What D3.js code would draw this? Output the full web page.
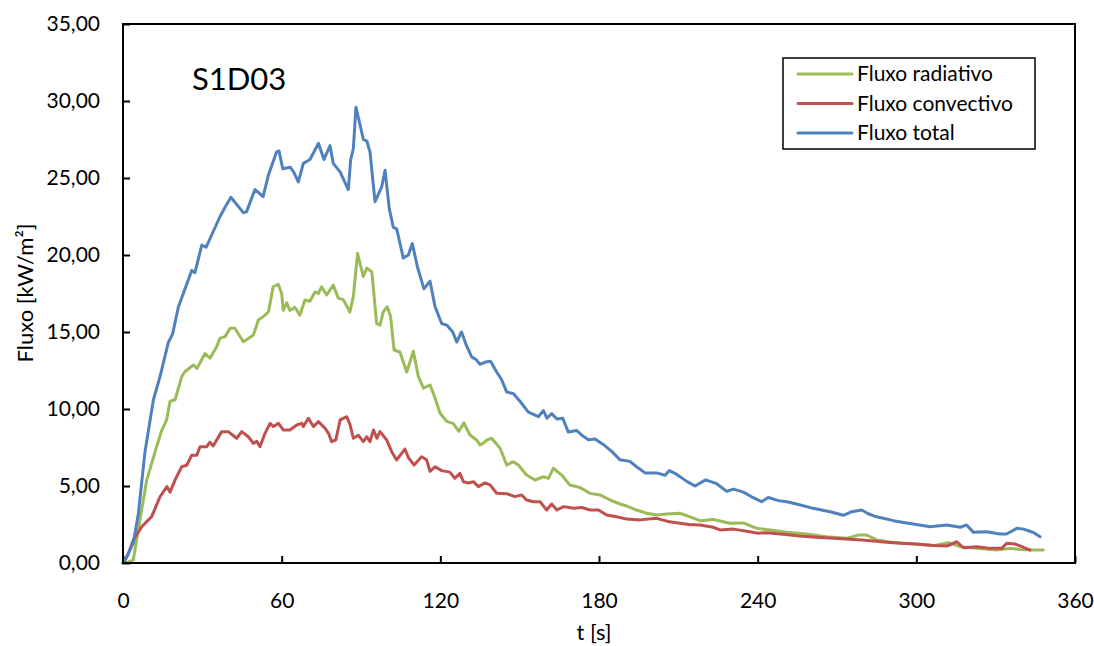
<!DOCTYPE html>
<html>
<head>
<meta charset="utf-8">
<script src="https://cdn.jsdelivr.net/npm/d3@7"></script>
<style>
  body { margin: 0; background: #fff; }
  svg text { font-family: Lato, "Open Sans", sans-serif; fill: #000; }
</style>
</head>
<body>
<script>
// series values (t in s, flux in kW/m2)
var tRad = [0,2,3.9,6.4,9,12.1,14.6,16.5,17.8,19.7,22.2,23.4,26.6,28,31,32.9,35.4,36.7,38.6,40.5,42.3,45.5,46.7,49.3,51.2,53,55,56.8,58.7,60,60.6,61.9,63.1,65,66.9,68.8,70.7,72.6,73.9,75.1,77,79.5,81.4,83.3,85.8,87.1,88.7,90.9,92.2,94.1,95.9,97.2,98.4,99.9,101.2,102.5,104.7,107.3,109.8,111.7,113.6,116.1,117.4,119.9,122.4,124.9,127,128.9,131.2,133.7,135,136.3,137.7,139.4,142.6,145.1,147.6,149.5,152.6,155.8,159,160.9,162.7,165.9,169,172.8,176.6,180.4,184.2,188,190.5,194.2,198,201.8,205.6,210.6,214.4,218.2,223.2,229.5,234.6,239.6,244.7,251,258.5,266.1,273.7,278.1,281.2,285,291.3,298.9,306.5,312.1,316.6,322.9,330.4,335.5,339.3,344.3,348];
var fluxRad = [0,0.05,0.2,2.8,5.4,7.2,8.6,9.3,10.5,10.6,12.1,12.42,12.86,12.64,13.6,13.3,14.05,14.6,14.7,15.24,15.24,14.37,14.5,14.8,15.78,16,16.3,17.94,18.1,17.5,16.4,16.9,16.4,16.6,16.1,17.08,17,17.6,17.5,17.94,17.4,18.05,17.2,17.1,16.3,17.3,20.1,18.6,19.15,18.9,15.56,15.45,16.3,16.64,16,13.83,13.7,12.4,13.75,12.1,11.35,11.56,11,9.72,9.2,9.05,8.55,9.1,8.31,7.99,7.66,7.8,7.99,8.1,7.45,6.36,6.58,6.36,5.71,5.39,5.6,5.5,6.15,5.71,5.06,4.9,4.52,4.42,4.09,3.83,3.7,3.44,3.23,3.12,3.18,3.23,3,2.75,2.83,2.58,2.6,2.25,2.15,2,1.88,1.71,1.6,1.82,1.82,1.5,1.34,1.23,1.13,1.32,1.06,0.95,0.85,0.95,0.88,0.85,0.84];

var tConv = [0,2,3.9,7.1,10.8,14,16.6,17.8,19.7,22.2,24.1,26,27.9,29.1,31.6,32.9,34.1,37.3,39.8,43,44.9,47.4,49.3,50.6,51.8,53.7,55.6,56.9,58.8,60.6,63.1,65.7,67.6,68.2,70.1,72,73.9,76.4,77.7,78.9,80.5,82.1,84.6,85.9,87.1,89,90.9,92.2,93.4,94.7,96,97.2,99.7,101.6,103.5,106.6,107.9,110.1,112.9,114.8,116.1,118,120.5,123.6,125.5,127.4,128.7,130.6,132.5,134.4,136.9,138.8,141.3,145.1,148.2,150.8,152.6,155.2,157.7,160.2,162.1,164.1,166.6,170.4,173.5,176.6,179.8,182.9,186.7,190.5,195.5,201.8,206,210,214,218.2,223.2,225.8,230.8,237,240.2,243.3,249.6,255.9,262.2,268.7,275,279.3,283.7,288.8,293.8,300,306.5,311.5,315.3,317.8,322.9,327.9,332.3,334.2,337.4,339.9,343];
var fluxConv = [0,0.6,1.5,2.36,3,4.3,4.96,4.6,5.4,6.25,6.35,7,7,7.55,7.55,7.85,7.6,8.53,8.53,8.1,8.53,8.2,7.77,7.9,7.55,8.42,9.07,8.86,9.07,8.64,8.64,8.96,9.07,8.86,9.4,8.86,9.18,8.75,8.42,7.88,8,9.29,9.5,8.96,8.1,8.3,7.88,8.2,7.88,8.64,8.1,8.53,7.99,7.23,6.69,7.4,6.85,6.36,6.9,6.7,5.95,6.25,6,5.9,5.5,5.82,5.28,5.2,5.28,4.96,5.2,5.07,4.53,4.5,4.31,4.42,4.09,3.98,3.98,3.44,3.83,3.44,3.66,3.55,3.6,3.44,3.44,3.12,3,2.85,2.8,2.9,2.7,2.6,2.5,2.47,2.32,2.15,2.2,2.03,1.93,1.97,1.86,1.75,1.67,1.6,1.54,1.5,1.43,1.34,1.28,1.23,1.13,1.1,1.38,0.99,1.06,0.95,0.95,1.28,1.23,1.06,0.84];

var tTot = [0,1.2,3.9,5.8,8.3,11.5,14,17.1,18.8,20.9,22.8,26,27.2,29.8,31.4,36.7,38.6,40.8,45.5,46.7,49.9,53,55,58.1,59,60.4,63.2,64.5,66.3,68.2,70.7,73.9,76,78.3,79.5,82.1,85.2,86.1,87.1,88.1,90.9,92.2,93.4,95.3,97.8,99.1,100.7,102.2,103.5,106,107.9,109.4,111.3,113.8,116.1,118,120.5,122.4,124.7,126.2,128,129.7,131.8,133.6,135,137,139,141.3,143.2,145.1,147.6,150.1,153.3,157.1,159,160.3,162.1,164.1,166.3,168.4,171.6,173.5,176,178.5,181.6,184.8,187.9,191.7,194.2,197.4,201.8,205,206.6,209.4,213.2,216.3,220.3,224.5,228.3,230.8,234.6,237.7,241.5,244,247.9,251,254.7,261,267.4,272.4,275.6,279.3,281.8,285,291.3,297,301.2,305.2,311.5,316.6,319,321.6,326.6,331.6,334.1,338,340.5,344.3,346.8];
var fluxTot = [0,0.3,1.3,3.2,7.2,10.6,12.1,14.3,14.9,16.6,17.5,19,18.85,20.65,20.5,22.5,23.1,23.75,22.75,22.8,24.25,23.8,25.2,26.7,26.75,25.6,25.7,25.4,24.75,25.95,26.2,27.25,26.2,27.1,25.95,25.4,24.25,26.2,26.9,29.6,27.5,27.4,26.7,23.46,24.4,25.5,23,21.8,21.7,19.8,20,20.75,19.25,17.8,18.3,16.65,15.55,15.45,15,14.35,15,14.2,13.4,13.2,12.9,13.05,13.1,12.4,11.9,11.1,11,10.5,9.8,9.5,9.9,9.4,9.7,9.35,9.4,8.5,8.6,8.3,8,8.05,7.7,7.25,6.7,6.6,6.25,5.85,5.85,5.7,6,5.75,5.3,5,5.4,5.15,4.65,4.8,4.6,4.3,3.98,4.25,4.05,3.98,3.83,3.55,3.33,3.1,3.33,3.44,3.2,3,2.75,2.58,2.47,2.36,2.47,2.32,2.47,1.99,2.03,1.88,1.88,2.25,2.2,1.98,1.71];

var seriesNames = ["Fluxo radiativo", "Fluxo convectivo", "Fluxo total"];
var seriesColors = ["#9BBB59", "#C0504D", "#4F81BD"];
var xTicks = [0, 60, 120, 180, 240, 300, 360];
var yTicks = [0, 5, 10, 15, 20, 25, 30, 35];

var width = 1094, height = 646;
var margin = {left: 123, top: 24, right: 19, bottom: 83};
var plotW = width - margin.left - margin.right;
var plotH = height - margin.top - margin.bottom;

var svg = d3.select("body").append("svg")
    .attr("width", width)
    .attr("height", height);

var x = d3.scaleLinear().domain([0, 360]).range([0, plotW]);
var y = d3.scaleLinear().domain([0, 35]).range([plotH, 0]);

var g = svg.append("g")
    .attr("transform", "translate(" + margin.left + "," + margin.top + ")");

var fmt = function(d) { return d3.format(".2f")(d).replace(".", ","); };

// axes with inward ticks
var xAxis = g.append("g")
    .attr("transform", "translate(0," + plotH + ")")
    .call(d3.axisBottom(x).tickValues(xTicks).tickSizeInner(-7).tickSizeOuter(0).tickPadding(30));
var yAxis = g.append("g")
    .call(d3.axisLeft(y).tickValues(yTicks).tickFormat(fmt).tickSizeInner(-7).tickSizeOuter(0).tickPadding(23));

[xAxis, yAxis].forEach(function(a) {
  a.select(".domain").remove();
  a.selectAll(".tick line").attr("stroke", "#000").attr("stroke-width", 2);
  a.selectAll(".tick text").attr("font-size", 21).attr("font-family", "Lato, sans-serif").attr("fill", "#000");
});

// series lines
var line = d3.line()
    .x(function(d) { return x(d[0]); })
    .y(function(d) { return y(d[1]); });

var seriesData = [
  d3.zip(tRad, fluxRad),
  d3.zip(tConv, fluxConv),
  d3.zip(tTot, fluxTot)
];

g.selectAll(".serie")
  .data(seriesData)
  .enter().append("path")
    .attr("class", "serie")
    .attr("d", line)
    .attr("fill", "none")
    .attr("stroke", function(d, i) { return seriesColors[i]; })
    .attr("stroke-width", 3)
    .attr("stroke-linejoin", "round")
    .attr("stroke-linecap", "round");

// plot frame
g.append("rect")
    .attr("width", plotW)
    .attr("height", plotH)
    .attr("fill", "none")
    .attr("stroke", "#000")
    .attr("stroke-width", 2);

// title inside plot
g.append("text")
    .attr("x", 69)
    .attr("y", 66)
    .attr("font-size", 31)
    .text("S1D03");

// axis titles
svg.append("text")
    .attr("x", 594)
    .attr("y", 640)
    .attr("text-anchor", "middle")
    .attr("font-size", 22)
    .text("t [s]");

svg.append("text")
    .attr("transform", "translate(33,293) rotate(-90)")
    .attr("text-anchor", "middle")
    .attr("font-size", 22)
    .text("Fluxo [kW/m²]");

// legend
var legend = svg.append("g").attr("transform", "translate(783,58)");
legend.append("rect")
    .attr("width", 252)
    .attr("height", 91)
    .attr("fill", "#fff")
    .attr("stroke", "#000")
    .attr("stroke-width", 1.5);

var items = legend.selectAll(".item")
  .data(seriesNames)
  .enter().append("g")
    .attr("class", "item")
    .attr("transform", function(d, i) { return "translate(0," + (16 + i * 29.5) + ")"; });

items.append("line")
    .attr("x1", 15).attr("x2", 69)
    .attr("stroke", function(d, i) { return seriesColors[i]; })
    .attr("stroke-width", 3)
    .attr("stroke-linecap", "round");

items.append("text")
    .attr("x", 74)
    .attr("dy", "0.35em")
    .attr("font-size", 21)
    .text(function(d) { return d; });
</script>
</body>
</html>
